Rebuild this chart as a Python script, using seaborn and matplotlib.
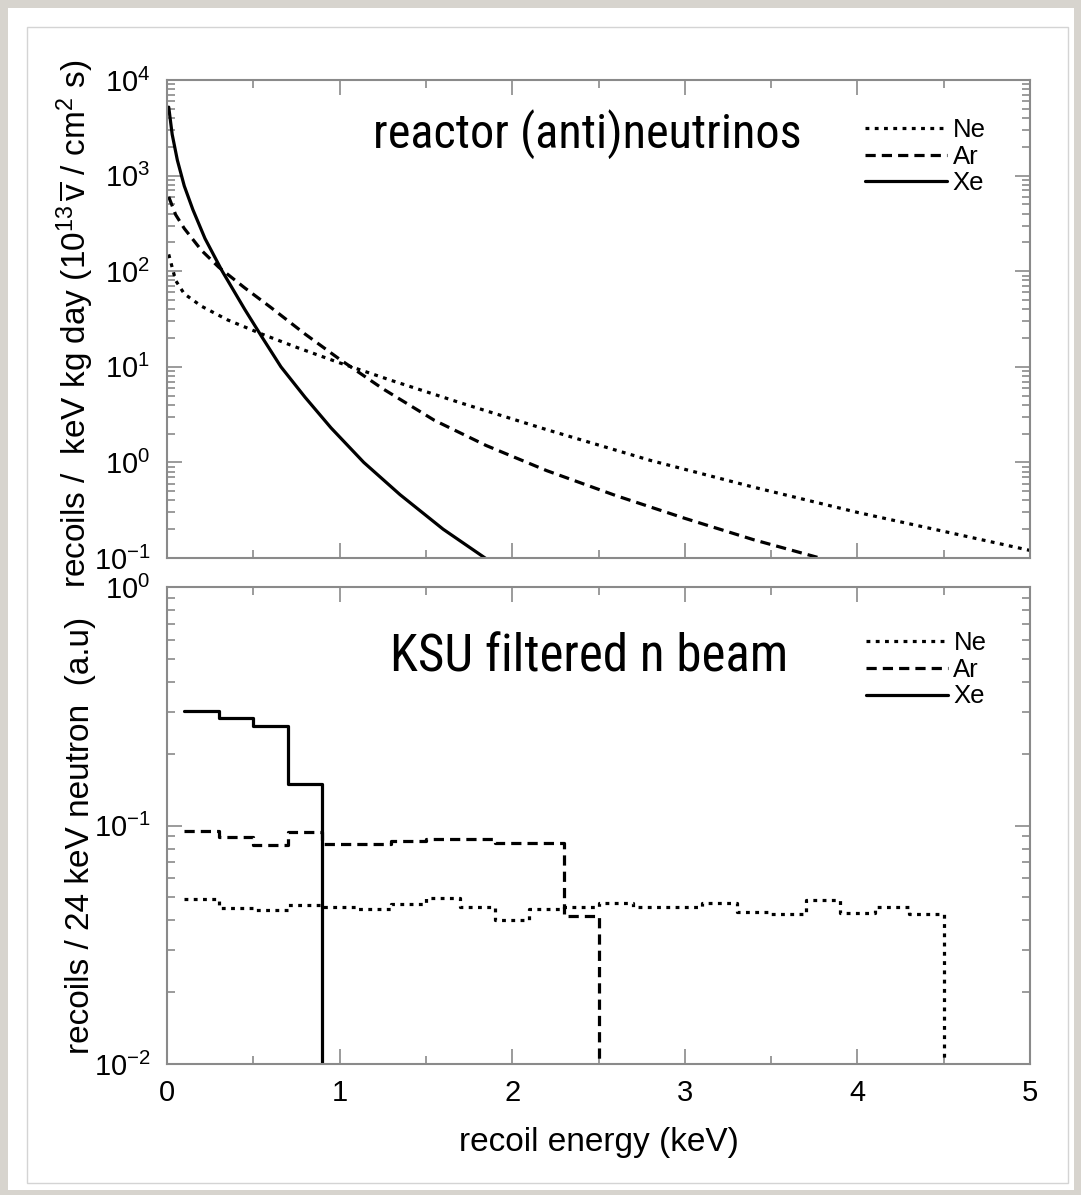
import numpy as np
import pandas as pd
import matplotlib
matplotlib.use("Agg")
import matplotlib.pyplot as plt
import seaborn as sns
from matplotlib import font_manager
from matplotlib.patches import Rectangle
from matplotlib.ticker import MultipleLocator, LogLocator, NullFormatter
from matplotlib.lines import Line2D

# ---------------- data ----------------
gases = ["Ne", "Ar", "Xe"]

# top panel: reactor (anti)neutrino recoil spectra
ne_e = [0.01, 0.05, 0.1, 0.2, 0.35, 0.55, 0.75, 1.0, 1.3, 1.7, 2.2, 2.8, 3.4, 4.0, 4.5, 5.0]
ne_v = [150, 80, 58, 43, 31, 22, 16, 11, 7.2, 4.2, 2.2, 1.05, 0.55, 0.30, 0.19, 0.12]

ar_e = [0.01, 0.05, 0.1, 0.2, 0.3, 0.45, 0.6, 0.8, 1.0, 1.25, 1.55, 1.85, 2.2, 2.6, 3.0, 3.4, 3.8]
ar_v = [600, 390, 280, 165, 110, 67, 42, 22.0, 12, 5.9, 2.75, 1.5, 0.82, 0.45, 0.26, 0.155, 0.098]

xe_e = [0.01, 0.03, 0.06, 0.1, 0.15, 0.22, 0.32, 0.45, 0.55, 0.66, 0.8, 0.95, 1.14, 1.35, 1.6, 1.85]
xe_v = [5200, 2700, 1450, 780, 440, 220, 100, 40, 20.5, 10, 4.8, 2.3, 1.0, 0.46, 0.20, 0.098]

# bottom panel: KSU filtered n beam, histograms (bin edges start at 0.1 keV, width 0.2 keV)
bin_start = 0.1
bin_width = 0.2
ne_h = [0.0493, 0.0452, 0.0442, 0.0463, 0.0454, 0.0446, 0.0468, 0.0498, 0.0454, 0.0402, 0.0446,
        0.0454, 0.0474, 0.0454, 0.0454, 0.0474, 0.0435, 0.0426, 0.0488, 0.0431, 0.0457, 0.0424]
ar_h = [0.095, 0.0898, 0.0828, 0.0937, 0.0836, 0.0834, 0.0865, 0.0875, 0.0875, 0.0842, 0.0842, 0.0417]
xe_h = [0.303, 0.281, 0.262, 0.150]
zero_floor = 1e-4  # histogram falls to zero after its last bin

top_title = "reactor (anti)neutrinos"
bot_title = "KSU filtered n beam"
top_ylabel = r"recoils /  keV kg day (10$^{13}\,\overline{\mathrm{v}}$ / cm$^{2}$ s)"
bot_ylabel = "recoils / 24 keV neutron  (a.u)"
xlabel = "recoil energy (keV)"

# ---------------- style ----------------
sns.set_theme(style="ticks")
names = {f.name for f in font_manager.fontManager.ttflist}
base_font = "Liberation Sans" if "Liberation Sans" in names else "DejaVu Sans"
narrow_font = base_font
for cand in ["Liberation Sans Narrow", "Roboto Condensed", "Open Sans Condensed", "Arial Narrow"]:
    if cand in names:
        narrow_font = cand
        break
plt.rcParams["font.family"] = [base_font, "DejaVu Sans"]
plt.rcParams["mathtext.fontset"] = "custom"
plt.rcParams["mathtext.rm"] = base_font
plt.rcParams["mathtext.it"] = base_font + ":italic"
plt.rcParams["mathtext.bf"] = base_font + ":bold"
plt.rcParams["text.color"] = "black"
plt.rcParams["axes.labelcolor"] = "black"
plt.rcParams["xtick.labelcolor"] = "black"
plt.rcParams["ytick.labelcolor"] = "black"

spine_col = "#8a8a8a"
line_w = 2.3
styles = {
    "Ne": (0, (1.2, 1.7)),
    "Ar": (0, (3.2, 1.9)),
    "Xe": "-",
}

fig = plt.figure(figsize=(10.81, 11.95), dpi=100)
fig.patch.set_facecolor("#d7d4ce")
W, H = 1081, 1195
fig.patches.append(Rectangle((8 / W, 1 - 1190 / H), (1074 - 8) / W, (1190 - 8) / H,
                             transform=fig.transFigure, facecolor="white", edgecolor="none", zorder=-3))
fig.patches.append(Rectangle((27 / W, 1 - 1183 / H), (1068 - 27) / W, (1183 - 27) / H,
                             transform=fig.transFigure, facecolor="white", edgecolor="#d4d4d4",
                             linewidth=1.0, zorder=-2))

ax1 = fig.add_axes([167 / W, 1 - 558 / H, (1030 - 167) / W, (558 - 80) / H])
ax2 = fig.add_axes([167 / W, 1 - 1064 / H, (1030 - 167) / W, (1064 - 587) / H])

top_data = {"Ne": (ne_e, ne_v), "Ar": (ar_e, ar_v), "Xe": (xe_e, xe_v)}
for g in gases:
    e, v = top_data[g]
    sns.lineplot(x=e, y=v, ax=ax1, color="black", linewidth=line_w, linestyle=styles[g],
                 estimator=None, sort=False)

hist_data = {"Ne": ne_h, "Ar": ar_h, "Xe": xe_h}
for g in gases:
    h = hist_data[g]
    edges = bin_start + bin_width * np.arange(len(h) + 1)
    yv = list(h) + [zero_floor]
    sns.lineplot(x=edges, y=yv, ax=ax2, color="black", linewidth=line_w, linestyle=styles[g],
                 drawstyle="steps-post", estimator=None, sort=False)

for ax in (ax1, ax2):
    ax.set_yscale("log")
    ax.set_xlim(0, 5)
    ax.xaxis.set_major_locator(MultipleLocator(1))
    ax.xaxis.set_minor_locator(MultipleLocator(0.5))
    ax.yaxis.set_minor_locator(LogLocator(base=10, subs=np.arange(2, 10)))
    ax.yaxis.set_minor_formatter(NullFormatter())
    ax.tick_params(which="both", direction="in", top=True, right=True, color=spine_col,
                   width=1.2, labelsize=21, labelcolor="black")
    ax.tick_params(which="major", length=10.5)
    ax.tick_params(which="minor", length=5.5)
    ax.tick_params(axis="y", pad=12)
    ax.tick_params(axis="x", pad=11)
    for s in ax.spines.values():
        s.set_color(spine_col)
        s.set_linewidth(1.5)
    ax.set_facecolor("white")
    ax.grid(False)

ax1.set_ylim(0.1, 1e4)
ax2.set_ylim(0.01, 1.0)
ax1.tick_params(axis="x", labelbottom=False)

ax2.set_xlabel(xlabel, fontsize=24, labelpad=14, color="black")
ax1.set_ylabel(top_ylabel, fontsize=24, color="black")
ax2.set_ylabel(bot_ylabel, fontsize=24, color="black")
ax1.yaxis.set_label_coords(-0.082, 0.49)
ax2.yaxis.set_label_coords(-0.082, 0.48)

t1 = ax1.text(0.487, 0.887, top_title, transform=ax1.transAxes, ha="center", va="center",
              fontsize=36, color="black", family=[narrow_font, "DejaVu Sans"])
t2 = ax2.text(0.489, 0.852, bot_title, transform=ax2.transAxes, ha="center", va="center",
              fontsize=36, color="black", family=[narrow_font, "DejaVu Sans"])

# fit the titles to the widths they have in the reference
fig.canvas.draw()
renderer = fig.canvas.get_renderer()
for t, target in ((t1, 428.0), (t2, 398.0)):
    w = t.get_window_extent(renderer).width
    t.set_fontsize(36 * target / w)

handles = [Line2D([], [], color="black", linewidth=line_w, linestyle=styles[g]) for g in gases]
leg_kw = dict(frameon=False, fontsize=18.5, handlelength=3.2, handletextpad=0.2,
              labelspacing=0.1, borderpad=0, borderaxespad=0, loc="upper left", labelcolor="black")
ax1.legend(handles, gases, bbox_to_anchor=(0.809, 0.92), **leg_kw)
ax2.legend(handles, gases, bbox_to_anchor=(0.810, 0.907), **leg_kw)

fig.savefig("out.png", dpi=100, facecolor=fig.get_facecolor())
